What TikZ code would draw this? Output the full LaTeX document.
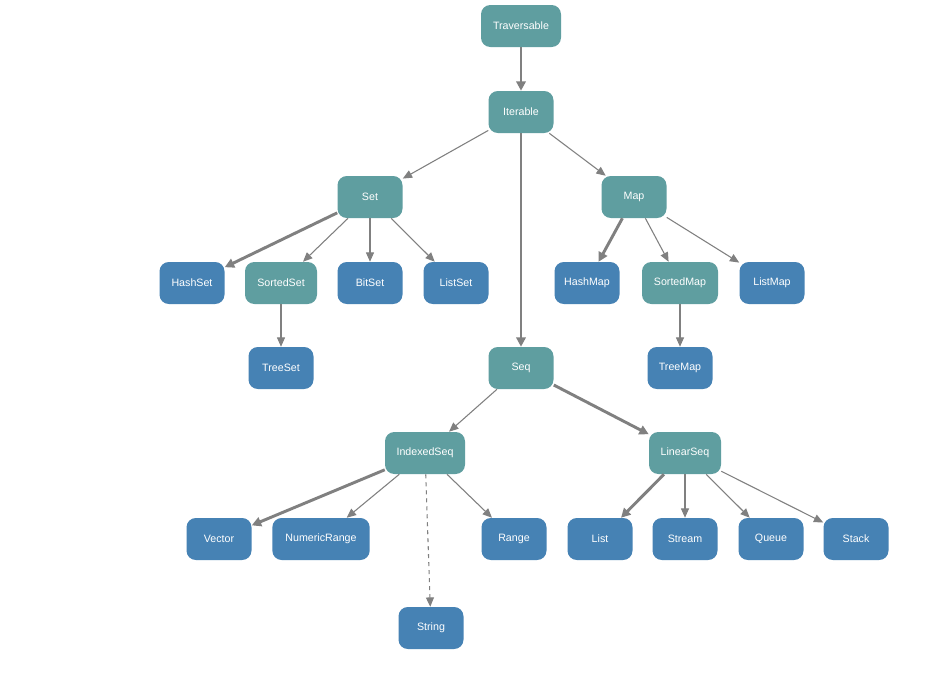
\documentclass[tikz,border=0pt]{standalone}
\usepackage{fontspec}
\setmainfont{Liberation Sans}
\usetikzlibrary{arrows.meta}
\definecolor{tealc}{HTML}{5F9EA0}
\definecolor{bluec}{HTML}{4682B4}
\definecolor{edgec}{HTML}{808080}
\begin{document}
\begin{tikzpicture}[x=0.75pt,y=-0.75pt,
  nd/.style={rounded corners=7pt,minimum height=31.5pt,minimum width=48.75pt,text=white,font=\fontsize{8}{9.6}\selectfont,inner sep=2pt},
  tn/.style={nd,fill=tealc},
  bn/.style={nd,fill=bluec},
  ed/.style={draw=edgec,line width=0.8pt,-{Triangle[length=7pt,width=6pt]}},
  th/.style={ed,line width=2.2pt,-{Triangle[length=7pt,width=7pt]}}]
\fill[white] (0,0) rectangle (946,690);
\node[tn,minimum width=60pt] (trav) at (521,26) {Traversable};
\node[tn] (iter) at (521,112) {Iterable};
\node[tn] (set) at (370,197) {Set};
\node[tn] (map) at (634,197) {Map};
\node[bn] (hs) at (192,283) {HashSet};
\node[tn,minimum width=54pt] (ss) at (281,283) {SortedSet};
\node[bn] (bs) at (370,283) {BitSet};
\node[bn] (ls) at (456,283) {ListSet};
\node[bn] (hm) at (587,283) {HashMap};
\node[tn,minimum width=57pt] (sm) at (680,283) {SortedMap};
\node[bn] (lm) at (772,283) {ListMap};
\node[bn] (ts) at (281,368) {TreeSet};
\node[bn] (tm) at (680,368) {TreeMap};
\node[tn] (seq) at (521,368) {Seq};
\node[tn,minimum width=60pt] (is) at (425,453) {IndexedSeq};
\node[tn,minimum width=54pt] (lseq) at (685,453) {LinearSeq};
\node[bn] (vec) at (219,539) {Vector};
\node[bn,minimum width=73pt] (nr) at (321,539) {NumericRange};
\node[bn] (rng) at (514,539) {Range};
\node[bn] (lst) at (600,539) {List};
\node[bn] (str) at (685,539) {Stream};
\node[bn] (que) at (771,539) {Queue};
\node[bn] (stk) at (856,539) {Stack};
\node[bn] (sg) at (431,628) {String};
\draw[th] (trav) -- (iter);
\draw[th] (iter) -- (seq);
\draw[ed] (iter) -- (set);
\draw[ed] (iter) -- (map);
\draw[th] (set) -- (hs);
\draw[ed] (set) -- (ss);
\draw[ed] (set) -- (bs);
\draw[ed] (set) -- (ls);
\draw[th] (map) -- (hm);
\draw[ed] (map) -- (sm);
\draw[ed] (map) -- (lm);
\draw[ed] (ss) -- (ts);
\draw[ed] (sm) -- (tm);
\draw[ed] (seq) -- (is);
\draw[th] (seq) -- (lseq);
\draw[th] (is) -- (vec);
\draw[ed] (is) -- (nr);
\draw[ed] (is) -- (rng);
\draw[ed,dashed] (is.south) ++(0,0) coordinate (isd) (is) -- (sg);
\draw[th] (lseq) -- (lst);
\draw[ed] (lseq) -- (str);
\draw[ed] (lseq) -- (que);
\draw[ed] (lseq) -- (stk);
\end{tikzpicture}
\end{document}
